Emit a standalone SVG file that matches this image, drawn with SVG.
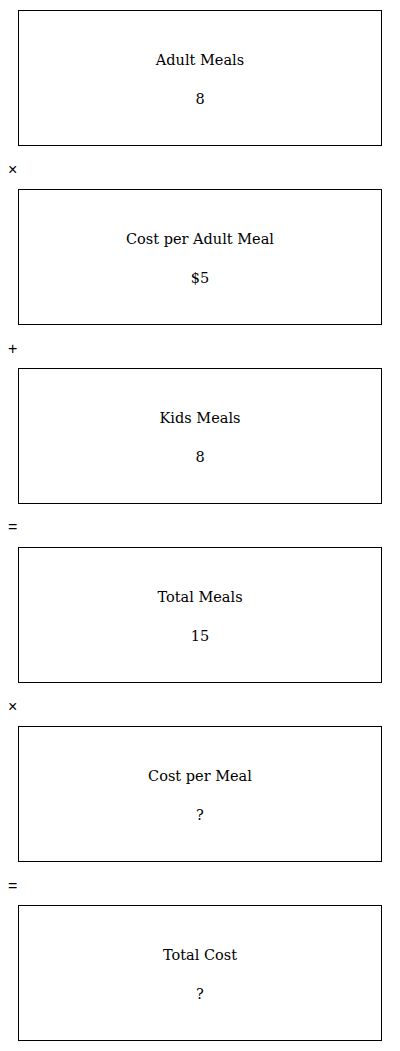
<svg xmlns="http://www.w3.org/2000/svg" width="400" height="1051" viewBox="0 0 400 1051">
<style>
.box{fill:#fff;stroke:#000;stroke-width:1}
.t{font-family:"DejaVu Serif",serif;font-size:14.5px;fill:#000;text-anchor:middle}
.op{font-family:"Liberation Sans",sans-serif;font-size:16px;fill:#000}
</style>
<rect width="400" height="1051" fill="#fff"/>
<g id="n1"><rect class="box" x="18.5" y="10.5" width="363" height="135"/><text class="t" x="200" y="65">Adult Meals</text><text class="t" x="200" y="104">8</text></g>
<g id="n2"><rect class="box" x="18.5" y="189.5" width="363" height="135"/><text class="t" x="200" y="244">Cost per Adult Meal</text><text class="t" x="200" y="283">$5</text></g>
<g id="n3"><rect class="box" x="18.5" y="368.5" width="363" height="135"/><text class="t" x="200" y="423">Kids Meals</text><text class="t" x="200" y="462">8</text></g>
<g id="n4"><rect class="box" x="18.5" y="547.5" width="363" height="135"/><text class="t" x="200" y="602">Total Meals</text><text class="t" x="200" y="641">15</text></g>
<g id="n5"><rect class="box" x="18.5" y="726.5" width="363" height="135"/><text class="t" x="200" y="781">Cost per Meal</text><text class="t" x="200" y="820">?</text></g>
<g id="n6"><rect class="box" x="18.5" y="905.5" width="363" height="135"/><text class="t" x="200" y="960">Total Cost</text><text class="t" x="200" y="999">?</text></g>
<g id="connectors">
<text class="op" x="8" y="175">×</text>
<text class="op" x="8" y="354">+</text>
<text class="op" x="8" y="532">=</text>
<text class="op" x="8" y="712">×</text>
<text class="op" x="8" y="891">=</text>
</g>
</svg>
